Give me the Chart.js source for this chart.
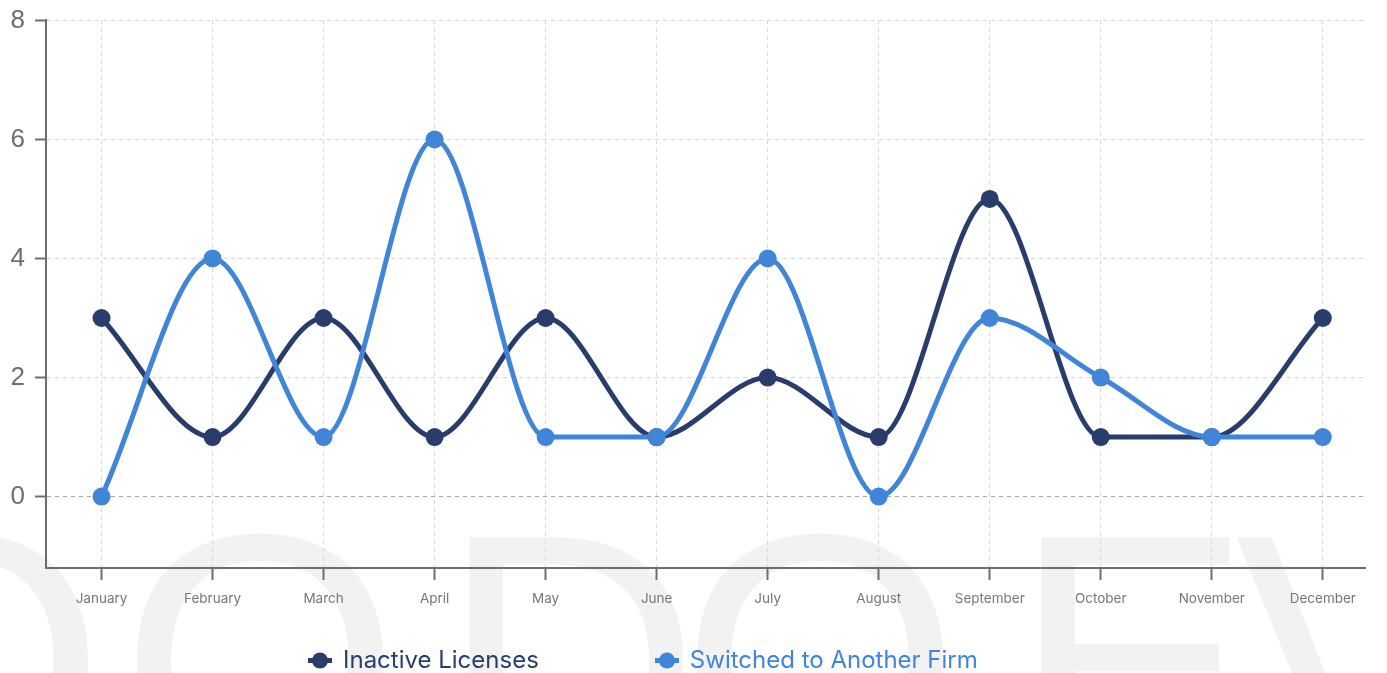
<!DOCTYPE html>
<html>
<head>
<meta charset="utf-8">
<script src="https://cdn.jsdelivr.net/npm/chart.js@4.4.0/dist/chart.umd.min.js"></script>
<style>
    html, body { margin: 0; padding: 0; background: #fff; overflow: hidden; }
    #wrap { position: relative; width: 1387px; height: 673px; }
    #legenda { position: absolute; left: 308px; top: 645px; display: flex; gap: 116px; font-family: Inter, sans-serif; font-size: 24px; }
    .item { display: flex; align-items: center; gap: 11px; line-height: 30px; }
</style>
</head>
<body>
<div id="wrap">
    <canvas id="grafico" width="1387" height="673"></canvas>
    <div id="legenda"></div>
</div>
<script>
// Dados do gráfico
const meses = ['January', 'February', 'March', 'April', 'May', 'June', 'July', 'August', 'September', 'October', 'November', 'December'];
const licencasInativas = [3, 1, 3, 1, 3, 1, 2, 1, 5, 1, 1, 3];
const trocaramEmpresa = [0, 4, 1, 6, 1, 1, 4, 0, 3, 2, 1, 1];
const ticksY = [0, 2, 4, 6, 8];

const corEscura = '#293d6c';
const corAzul = '#4085d8';
const corEixo = '#6e6e6e';

// marca d'água clarinha no fundo
const marcaDagua = {
    id: 'marcaDagua',
    beforeDraw(chart) {
        const ctx = chart.ctx;
        ctx.save();
        ctx.fillStyle = '#f2f2f2';
        ctx.font = '360px "Liberation Sans", Arial, sans-serif';
        ctx.textBaseline = 'alphabetic';
        [['O', -175], ['O', 120], ['D', 440], ['O', 680], ['E', 1012], ['V', 1235]].forEach(([l, x]) => {
            ctx.fillText(l, x, 785);
        });
        ctx.restore();
    }
};

function serie(valores) {
    return valores.map((v, i) => ({ x: i, y: v }));
}

const ctx = document.getElementById('grafico').getContext('2d');
const grafico = new Chart(ctx, {
    type: 'line',
    data: {
        datasets: [{
            label: 'Inactive Licenses',
            data: serie(licencasInativas),
            borderColor: corEscura,
            backgroundColor: corEscura,
            order: 1
        }, {
            label: 'Switched to Another Firm',
            data: serie(trocaramEmpresa),
            borderColor: corAzul,
            backgroundColor: corAzul,
            order: 0
        }]
    },
    options: {
        responsive: false,
        animation: false,
        layout: { padding: { top: 14, right: 22, left: 0, bottom: 0 } },
        elements: {
            line: { borderWidth: 5, cubicInterpolationMode: 'monotone', fill: false },
            point: { radius: 9, hoverRadius: 9, borderWidth: 0 }
        },
        plugins: {
            legend: { display: false },
            tooltip: { enabled: false }
        },
        scales: {
            x: {
                type: 'linear',
                min: -0.5,
                max: 11.38,
                afterBuildTicks: (eixo) => { eixo.ticks = meses.map((_, i) => ({ value: i })); },
                afterFit: (eixo) => { eixo.height = 105; },
                ticks: {
                    callback: (v) => meses[v],
                    color: '#777',
                    font: { family: 'Inter', size: 13.5 },
                    padding: 11,
                    maxRotation: 0,
                    autoSkip: false
                },
                grid: { color: '#d6d6d6', lineWidth: 1, tickLength: 12, tickColor: corEixo, tickWidth: 2 },
                border: { color: corEixo, width: 2, dash: [4, 4] }
            },
            y: {
                min: -1.2,
                max: 8,
                afterBuildTicks: (eixo) => { eixo.ticks = ticksY.map(v => ({ value: v })); },
                afterFit: (eixo) => { eixo.width = 46; },
                ticks: {
                    color: corEixo,
                    font: { family: '"Liberation Sans", Arial, sans-serif', size: 26, lineHeight: 0.8 },
                    padding: 10
                },
                grid: {
                    color: (c) => c.tick && c.tick.value === 0 ? '#a8a8a8' : '#d6d6d6',
                    lineWidth: 1, tickLength: 11, tickColor: corEixo, tickWidth: 2
                },
                border: { color: corEixo, width: 2, dash: [4, 4] }
            }
        }
    },
    plugins: [marcaDagua]
});

// Legenda em HTML, com o marcador linha + bolinha
function criarMarcador(cor) {
    const c = document.createElement('canvas');
    c.width = 24; c.height = 18;
    const g = c.getContext('2d');
    g.fillStyle = cor;
    g.fillRect(0, 7, 24, 5);
    g.beginPath();
    g.arc(12, 9.5, 8, 0, Math.PI * 2);
    g.fill();
    return c;
}

const legenda = document.getElementById('legenda');
grafico.data.datasets.forEach(ds => {
    const item = document.createElement('div');
    item.className = 'item';
    item.appendChild(criarMarcador(ds.borderColor));
    const txt = document.createElement('span');
    txt.textContent = ds.label;
    txt.style.color = ds.borderColor;
    item.appendChild(txt);
    legenda.appendChild(item);
});
</script>
</body>
</html>
